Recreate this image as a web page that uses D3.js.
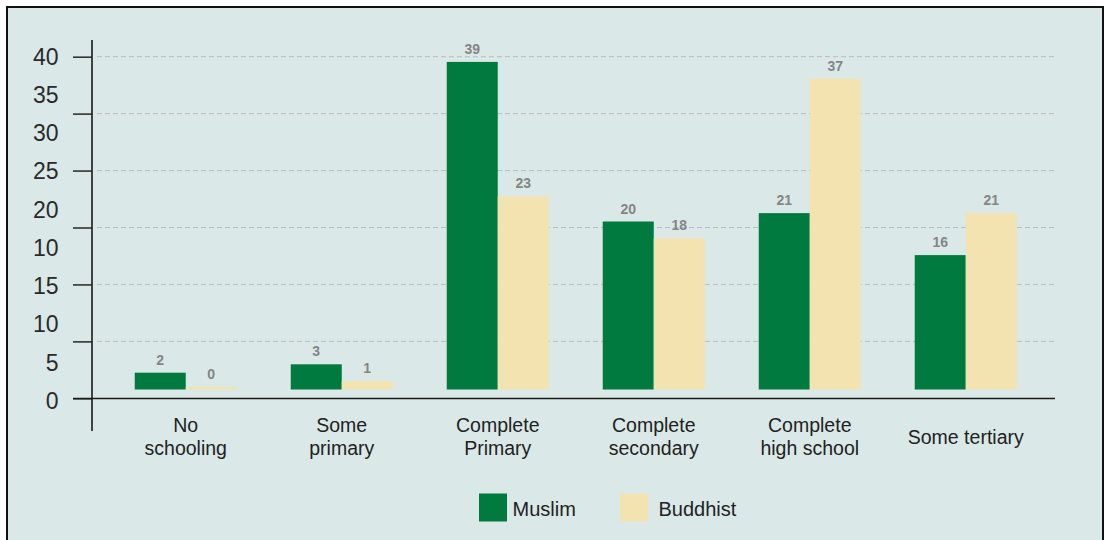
<!DOCTYPE html>
<html>
<head>
<meta charset="utf-8">
<script src="https://cdn.jsdelivr.net/npm/d3@7"></script>
<style>
  html, body { margin: 0; padding: 0; background: #ffffff; }
  svg { display: block; font-family: "Liberation Sans", Arial, sans-serif; }
</style>
</head>
<body>
<svg id="chart" width="1110" height="540"></svg>
<script>
// ---- data ----
const categories = [["No", "schooling"], ["Some", "primary"], ["Complete", "Primary"],
                    ["Complete", "secondary"], ["Complete", "high school"], ["Some tertiary"]];
const seriesNames = ["Muslim", "Buddhist"];
const muslim   = [2, 3, 39, 20, 21, 16];
const buddhist = [0, 1, 23, 18, 37, 21];
const yTickLabels = ["40", "35", "30", "25", "20", "10", "15", "10", "5", "0"];
const tickSteps = [0, 1, 2, 3, 4, 5, 6];

const colors = { Muslim: "#007a3e", Buddhist: "#f3e3b1" };

const svg = d3.select("#chart");

// background + frame
svg.append("rect").attr("x", 7).attr("y", 7).attr("width", 1096).attr("height", 545)
  .attr("fill", "#dae9e7").attr("stroke", "#111").attr("stroke-width", 2);

// scales
const x = d3.scaleBand().domain(d3.range(categories.length))
  .range([107.75, 1043.75]).paddingInner(0.346).paddingOuter(0.173);
const xs = d3.scaleBand().domain(seriesNames).range([0, x.bandwidth()]);
const y = d3.scaleLinear().domain([0, 40]).range([389.5, 53.5]);
const yTick = d3.scaleLinear().domain([0, 6]).range([398.3, 56.7]);
const yLab = d3.scalePoint().domain(d3.range(yTickLabels.length)).range([56.3, 400.5]);

// gridlines
svg.append("g").selectAll("line").data(tickSteps.filter(d => d > 0)).join("line")
  .attr("x1", 97).attr("x2", 1055)
  .attr("y1", d => yTick(d)).attr("y2", d => yTick(d))
  .attr("stroke", "#bcbcbc").attr("stroke-width", 1).attr("stroke-dasharray", "5,3");

// y axis ticks (via d3 axis)
const yAxis = d3.axisLeft(yTick).tickValues(tickSteps).tickSize(19).tickFormat("");
const gy = svg.append("g").attr("transform", "translate(92,0)").call(yAxis);
gy.select(".domain").remove();
gy.selectAll(".tick line").attr("stroke", "#333").attr("stroke-width", 1.6);

// y axis line
svg.append("line").attr("x1", 92).attr("x2", 92).attr("y1", 40).attr("y2", 431)
  .attr("stroke", "#1a1a1a").attr("stroke-width", 1.6);

// y tick labels
svg.append("g").selectAll("text").data(yTickLabels).join("text")
  .attr("x", 58.5).attr("y", (d, i) => yLab(i)).attr("dy", "0.36em")
  .attr("text-anchor", "end").attr("font-size", 23).attr("fill", "#2a2a2a")
  .text(d => d);

// bars
const groups = svg.append("g").selectAll("g").data(categories).join("g")
  .attr("transform", (d, i) => `translate(${x(i)},0)`);

groups.each(function (c, i) {
  const g = d3.select(this);
  const vals = [muslim[i], buddhist[i]];
  seriesNames.forEach((s, j) => {
    const v = vals[j];
    const top = Math.min(y(v), y(0) - 2.5);
    g.append("rect")
      .attr("x", xs(s)).attr("width", xs.bandwidth())
      .attr("y", top).attr("height", y(0) - top)
      .attr("fill", colors[s]);
    g.append("text")
      .attr("x", xs(s) + xs.bandwidth() / 2).attr("y", top - 8)
      .attr("text-anchor", "middle").attr("font-size", 14).attr("font-weight", "bold")
      .attr("fill", "#858585").text(v);
  });
});

// x axis line
svg.append("line").attr("x1", 73).attr("x2", 1055).attr("y1", 398.5).attr("y2", 398.5)
  .attr("stroke", "#1a1a1a").attr("stroke-width", 1.6);

// category labels
svg.append("g").selectAll("text").data(categories).join("text")
  .attr("x", (d, i) => x(i) + x.bandwidth() / 2)
  .attr("y", d => d.length === 1 ? 443.5 : 431.8)
  .attr("text-anchor", "middle").attr("font-size", 19.5).attr("fill", "#222")
  .each(function (d) {
    const t = d3.select(this);
    d.forEach((line, k) => {
      t.append("tspan").attr("x", t.attr("x")).attr("dy", k === 0 ? 0 : 22.7).text(line);
    });
  });

// legend
const legendX = [479, 620];
const legendTextX = [512.5, 658.5];
const lg = svg.append("g");
seriesNames.forEach((s, j) => {
  lg.append("rect").attr("x", legendX[j]).attr("y", 493.5).attr("width", 28).attr("height", 28)
    .attr("fill", colors[s]);
  lg.append("text").attr("x", legendTextX[j]).attr("y", 508.3).attr("dy", "0.36em")
    .attr("font-size", 20).attr("fill", "#222").text(s);
});
</script>
</body>
</html>
